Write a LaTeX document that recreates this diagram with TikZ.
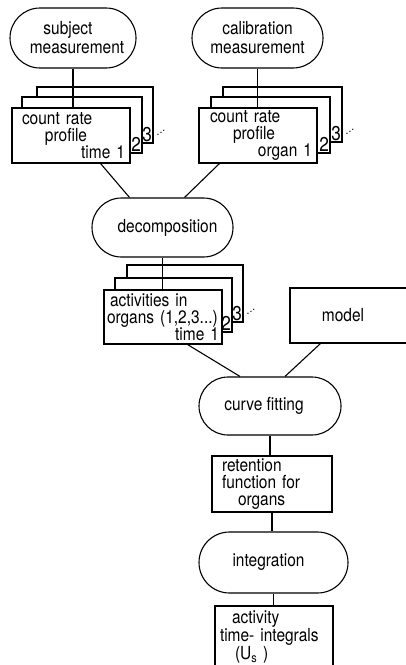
\documentclass[tikz,border=0pt]{standalone}
\usepackage{fontspec}
\setmainfont[FakeStretch=0.86]{TeX Gyre Heros}
\usepackage{tikz}
\usetikzlibrary{shapes.misc}

\tikzset{
  term/.style={draw, rounded rectangle, fill=white, align=center, inner sep=2pt,
    font=\fontsize{18}{19}\selectfont},
  card/.style={draw, rectangle, fill=white, align=left, inner xsep=5pt, inner ysep=2pt,
    font=\fontsize{18}{17}\selectfont},
  back/.style={draw, fill=white},
  num/.style={inner sep=0.6pt, font=\fontsize{20}{20}\selectfont},
  more/.style={inner sep=0pt, font=\fontsize{12}{12}\selectfont},
}
\newcommand{\moredots}{.\raisebox{2pt}{.}\raisebox{4pt}{.}}

\begin{document}
\begin{tikzpicture}[x=1pt, y=-1pt, line width=1.1pt]
	\useasboundingbox (0,0) rectangle (406,665);

	% the two measurements
	\node[term, minimum width=130, minimum height=60] (subj) at (73,38) {subject\hspace*{10pt}\\\hspace*{8pt}measurement};
	\node[term, minimum width=135, minimum height=60] (calib) at (257.5,38) {calibration\\measurement};

	% stack of count rate profiles, per time
	\draw[back] (37,87) rectangle (153,143);
	\node[num, anchor=south east] (a3) at (153,143) {3};
	\node[more] (adots) at (161,133) {\moredots};
	\draw[back] (22,97) rectangle (142,153);
	\node[num, anchor=south east] (a2) at (142,153) {2};
	\node[card, text width=108, minimum height=55] (crpA) at (71,135.5)
		{\hspace*{5pt}count rate\\\hspace*{28pt}profile\\\hfill time 1};

	% stack of count rate profiles, per organ
	\draw[back] (223,87) rectangle (342,142);
	\node[num, anchor=south east] (b3) at (342,142) {3};
	\node[more] (bdots) at (350,132) {\moredots};
	\draw[back] (211,97) rectangle (330,153);
	\node[num, anchor=south east] (b2) at (330,153) {2};
	\node[card, text width=108, minimum height=55] (crpB) at (258,135.5)
		{\hspace*{6pt}count rate\\\hspace*{29pt}profile\\\hfill organ 1};

	\node[term, minimum width=145, minimum height=59] (dec) at (162.5,227.5) {\hspace*{10pt}decomposition};

	% stack of organ activities
	\draw[back] (127,265) rectangle (243,322);
	\node[num, anchor=south east] (c3) at (243,322) {3};
	\node[more] (cdots) at (251,312) {\moredots};
	\draw[back] (115,278) rectangle (232,332);
	\node[num, anchor=south east] (c2) at (232,332) {2};
	\node[card, inner xsep=3pt, text width=112, minimum height=54] (act) at (163,317)
		{\hspace*{3pt}activities in\\organs (1,2,3...)\\\hfill time 1};

	\node[card, align=center, minimum width=124, minimum height=55] (model) at (352,315.5) {model\hspace*{18pt}};

	\node[term, minimum width=146, minimum height=58] (cf) at (270,406) {curve fitting\hspace*{12pt}};
	\node[card, text width=110, minimum height=56] (ret) at (272,484)
		{\hspace*{5pt}retention\\\hspace*{5pt}function for\\\hspace*{21pt}organs};
	\node[term, minimum width=153, minimum height=61] (integ) at (273.5,562.5) {integration\hspace*{10pt}};
	\node[card, text width=108, minimum height=62] (atime) at (274,637)
		{\hspace*{12pt}activity\\time- integrals\\\hspace*{15pt}(U\textsubscript{s} )};

	% connectors
	\draw (subj.south) -- (subj.south |- crpA.north);
	\draw (calib.south) -- (calib.south |- crpB.north);
	\draw ([xshift=-30]crpA.south east) -- ([xshift=-33]dec.north);
	\draw ([xshift=21]crpB.south west) -- ([xshift=22]dec.north);
	\draw (dec.south) -- (dec.south |- act.north);
	\draw ([xshift=-35]act.south east) -- ([xshift=-30]cf.north);
	\draw ([xshift=31]model.south west) -- ([xshift=15]cf.north);
	\draw (cf.south) -- (cf.south |- ret.north);
	\draw (ret.south) -- (ret.south |- integ.north);
	\draw (integ.south) -- (integ.south |- atime.north);
\end{tikzpicture}
\end{document}
